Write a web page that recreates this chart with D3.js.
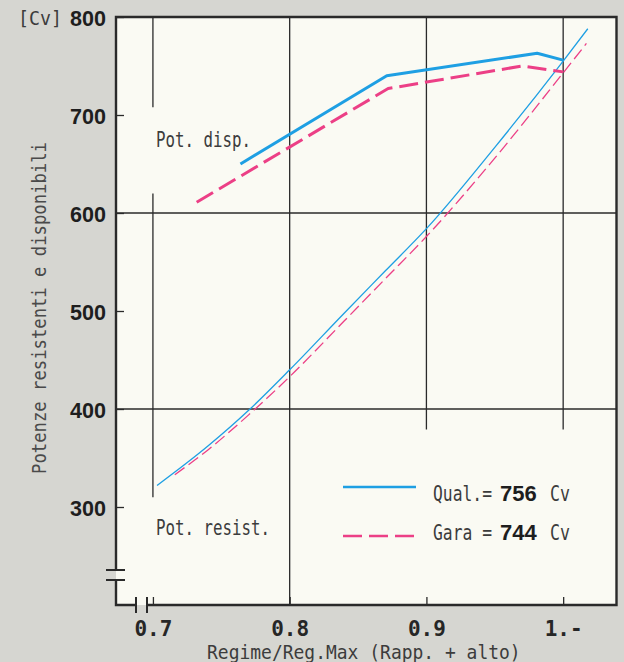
<!DOCTYPE html>
<html>
<head>
<meta charset="utf-8">
<script src="https://cdn.jsdelivr.net/npm/d3@7"></script>
<style>
body { margin: 0; background: #d6d6d1; }
svg { display: block; }
</style>
</head>
<body>
<svg id="chart"></svg>
<script>
// x = regime / regime max, y = power [Cv]
const dispQualX = [0.764, 0.871, 0.981, 1.0];
const dispQualY = [650, 740, 763, 756];
const dispGaraX = [0.732, 0.872, 0.970, 1.0];
const dispGaraY = [611, 727, 750, 744];

const resQualX = [0.703, 0.74, 0.771, 0.8, 0.84, 0.87, 0.9, 0.95, 1.0, 1.018];
const resQualY = [322, 362, 400, 440, 498, 541, 584, 667, 755, 788];
const resGaraX = [0.716, 0.74, 0.77, 0.8, 0.84, 0.87, 0.9, 0.95, 1.0, 1.017];
const resGaraY = [333, 358, 394, 433, 490, 533, 576, 656, 743, 773];

const xTicks = [0.7, 0.8, 0.9, 1.0];
const xTickLabels = ["0.7", "0.8", "0.9", "1.-"];
const yTicks = [300, 400, 500, 600, 700, 800];

const legendNames = ["Qual.=", "Gara ="];
const legendValues = [756, 744];

const width = 624;
const height = 662;
const blue = "#1e9fe3";
const pink = "#ec3f86";
const ink = "#2a2a2a";
const pen = "#3c3c3c";
const mono = "'DejaVu Sans Mono', monospace";

const svg = d3.select("#chart")
	.attr("width", width)
	.attr("height", height);

const x = d3.scaleLinear()
	.domain([0.673, 1.039])
	.range([116, 616.5]);
const y = d3.scaleLinear()
	.domain([200, 800])
	.range([605, 17]);

const x0 = x.range()[0], x1 = x.range()[1];
const y0 = y.range()[0], y1 = y.range()[1];

// paper + plot area
svg.append("rect")
	.attr("width", width).attr("height", height)
	.attr("fill", "#d6d6d1");
svg.append("rect")
	.attr("x", x0).attr("y", y1)
	.attr("width", x1 - x0).attr("height", y0 - y1)
	.attr("fill", "#fafaf3");

// grid (only some lines are full, others broken around labels)
const vGrid = [
	{v: 0.7, segs: [[800, 708], [620, 310]]},
	{v: 0.8, segs: [[800, 200]]},
	{v: 0.9, segs: [[800, 379]]},
	{v: 1.0, segs: [[800, 379]]}
];
const grid = svg.append("g")
	.attr("stroke", ink)
	.attr("stroke-width", 1.3);
vGrid.forEach(g => {
	g.segs.forEach(s => {
		grid.append("line")
			.attr("x1", x(g.v)).attr("x2", x(g.v))
			.attr("y1", y(s[0])).attr("y2", y(s[1]));
	});
});
[600, 400].forEach(v => {
	grid.append("line")
		.attr("x1", x0).attr("x2", x1)
		.attr("y1", y(v)).attr("y2", y(v));
});

// axes: short inward ticks + labels
const yAxis = g => g
	.attr("transform", `translate(${x0},0)`)
	.call(d3.axisLeft(y).tickValues(yTicks).tickSize(-8).tickPadding(10))
	.call(g => g.select(".domain").remove())
	.call(g => g.selectAll(".tick line").attr("stroke", ink).attr("stroke-width", 1.3))
	.call(g => g.selectAll(".tick text")
		.attr("dy", null).attr("y", 8)
		.attr("fill", "#1e1e1e")
		.attr("font-family", "'Liberation Sans', Arial, sans-serif")
		.attr("font-weight", "bold")
		.attr("font-size", 22)
		.attr("textLength", 36)
		.attr("lengthAdjust", "spacingAndGlyphs"));

const xAxis = g => g
	.attr("transform", `translate(0,${y0})`)
	.call(d3.axisBottom(x).tickValues(xTicks).tickSize(-8).tickPadding(16)
		.tickFormat((d, i) => xTickLabels[i]))
	.call(g => g.select(".domain").remove())
	.call(g => g.selectAll(".tick line").attr("stroke", ink).attr("stroke-width", 1.3))
	.call(g => g.selectAll(".tick text")
		.attr("dy", null).attr("y", 30.5)
		.attr("fill", "#262626")
		.attr("font-family", mono)
		.attr("font-weight", "bold")
		.attr("font-size", 21));

svg.append("g").call(yAxis);
svg.append("g").call(xAxis);

// curves
const pts = (xs, ys) => d3.zip(xs, ys);
const straight = d3.line().x(d => x(d[0])).y(d => y(d[1]));
const smooth = d3.line().x(d => x(d[0])).y(d => y(d[1])).curve(d3.curveMonotoneX);

const curves = [
	{d: pts(resQualX, resQualY), line: smooth, color: blue, w: 1.3, dash: null},
	{d: pts(resGaraX, resGaraY), line: smooth, color: pink, w: 1.3, dash: "12,5"},
	{d: pts(dispQualX, dispQualY), line: straight, color: blue, w: 3, dash: null},
	{d: pts(dispGaraX, dispGaraY), line: straight, color: pink, w: 3, dash: "19,7"}
];
svg.selectAll(".curve")
	.data(curves)
	.enter()
	.append("path")
	.attr("class", "curve")
	.attr("fill", "none")
	.attr("stroke", d => d.color)
	.attr("stroke-width", d => d.w)
	.attr("stroke-dasharray", d => d.dash)
	.attr("stroke-linejoin", "round")
	.attr("d", d => d.line(d.d));

// frame with axis breaks
const bx1 = x0 + 20, bx2 = x0 + 31;
const by1 = y0 - 25, by2 = y0 - 35;
const frame = d3.path();
frame.moveTo(x0, by2);
frame.lineTo(x0, y1);
frame.lineTo(x1, y1);
frame.lineTo(x1, y0);
frame.lineTo(bx2, y0);
frame.moveTo(bx1, y0);
frame.lineTo(x0, y0);
frame.lineTo(x0, by1);
svg.append("path")
	.attr("d", frame.toString())
	.attr("fill", "none")
	.attr("stroke", ink)
	.attr("stroke-width", 2.4);
const breaks = svg.append("g")
	.attr("stroke", ink)
	.attr("stroke-width", 2);
[by1, by2].forEach(b => {
	breaks.append("line").attr("x1", x0 - 10).attr("x2", x0 + 9).attr("y1", b).attr("y2", b);
});
[bx1, bx2].forEach(b => {
	breaks.append("line").attr("x1", b).attr("x2", b).attr("y1", y0 - 8).attr("y2", y0 + 8);
});

// drafting text: tall narrow pen lettering, squeezed to the measured width
function pen_text(g, str, px, py, len, size, rot) {
	const t = g.append("text")
		.attr("font-family", mono)
		.attr("font-size", size)
		.attr("fill", pen)
		.text(str);
	const sx = len / t.node().getComputedTextLength();
	if (rot) {
		t.attr("text-anchor", "middle")
			.attr("transform", `translate(${px},${py}) rotate(-90) scale(${sx},1)`);
	} else {
		t.attr("transform", `translate(${px},${py}) scale(${sx},1)`);
	}
	return t;
}

pen_text(svg, "[Cv]", 18, 25, 44, 19);
pen_text(svg, "Pot. disp.", 156, 147, 95, 22);
pen_text(svg, "Pot. resist.", 156, 535, 114, 22);
pen_text(svg, "Regime/Reg.Max (Rapp. + alto)", 207, 659, 314, 20);
pen_text(svg, "Potenze resistenti e disponibili", 46, 308, 332, 19, true)
	.attr("fill", "#4a4a4a");

// legend
const legendColors = [blue, pink];
const legendDash = [null, "19,7"];
const legendY = [487, 536];
const legendBase = [500.5, 540];
legendNames.forEach((name, i) => {
	svg.append("line")
		.attr("x1", 343).attr("x2", 416)
		.attr("y1", legendY[i]).attr("y2", legendY[i])
		.attr("stroke", legendColors[i])
		.attr("stroke-width", 2.6)
		.attr("stroke-dasharray", legendDash[i]);
	pen_text(svg, name, 433, legendBase[i], 59, 21);
	svg.append("text")
		.attr("x", 500).attr("y", legendBase[i])
		.attr("font-family", "'Liberation Sans', Arial, sans-serif")
		.attr("font-weight", "bold")
		.attr("font-size", 22)
		.attr("fill", "#1e1e1e")
		.text(legendValues[i]);
	pen_text(svg, "Cv", 550, legendBase[i], 20, 21);
});
</script>
</body>
</html>
